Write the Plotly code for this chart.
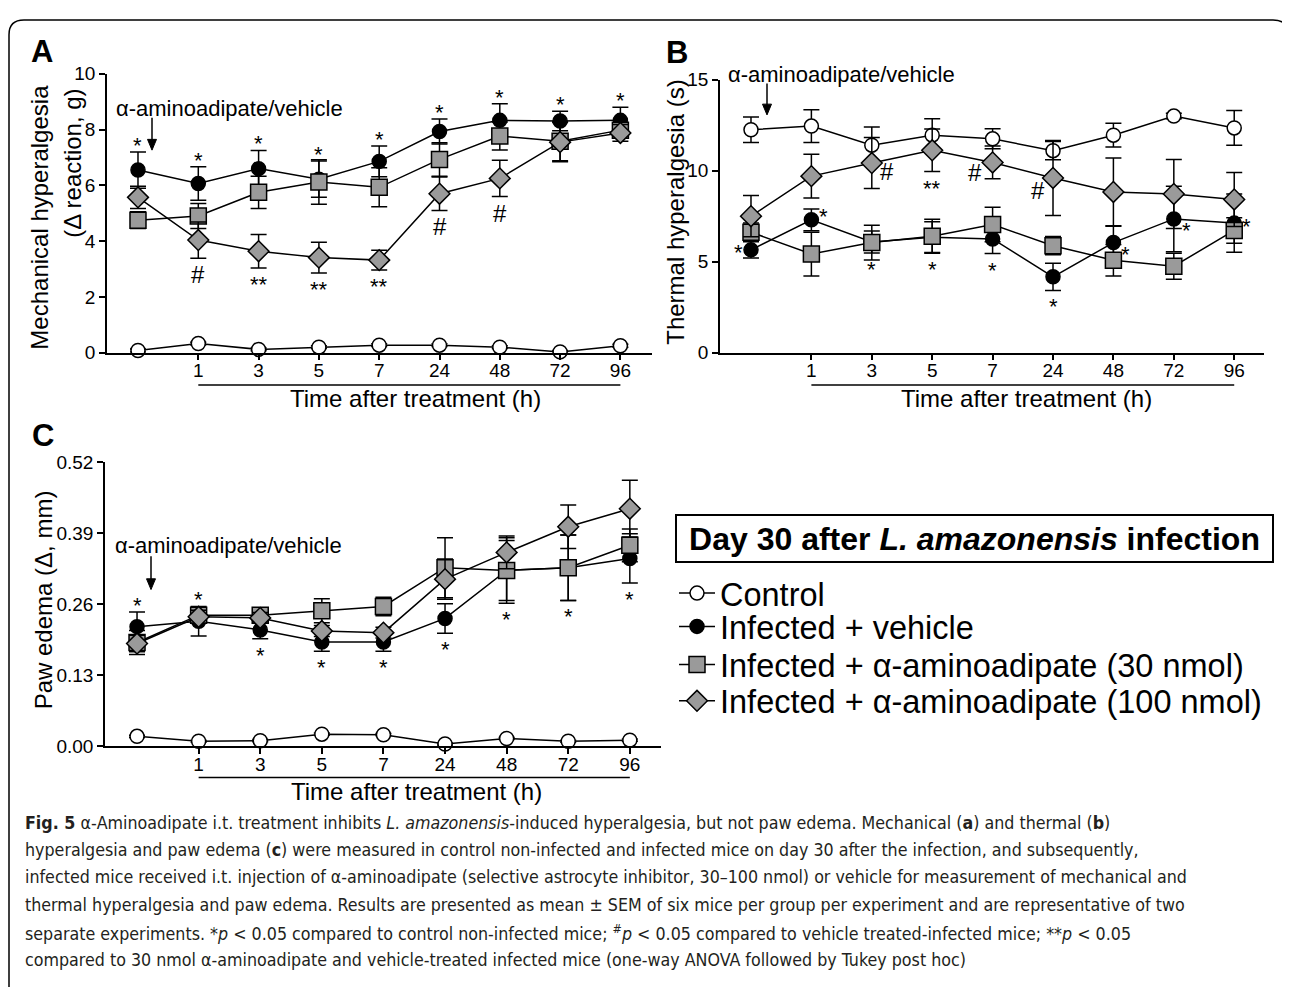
import plotly.graph_objects as go

W, H = 1290, 987

# ---------------- data ----------------
TIME_LABELS = ["1", "3", "5", "7", "24", "48", "72", "96"]   # baseline point has no label
N_POINTS = 9
SERIES_NAMES = ["Control", "Infected + vehicle",
                "Infected + α-aminoadipate (30 nmol)",
                "Infected + α-aminoadipate (100 nmol)"]

# Panel A: mechanical hyperalgesia (Δ reaction, g)
A_control = [0.08, 0.33, 0.12, 0.20, 0.27, 0.27, 0.20, 0.03, 0.25]
A_control_sem = [0.05] * 9
A_vehicle = [6.55, 6.07, 6.60, 6.22, 6.86, 7.93, 8.33, 8.31, 8.33]
A_vehicle_sem = [0.65, 0.60, 0.65, 0.65, 0.55, 0.45, 0.60, 0.35, 0.47]
A_aa30 = [4.75, 4.90, 5.75, 6.12, 5.93, 6.93, 7.77, 7.58, 7.98]
A_aa30_sem = [0.30, 0.45, 0.58, 0.80, 0.70, 0.60, 0.50, 0.70, 0.20]
A_aa100 = [5.57, 4.04, 3.64, 3.41, 3.32, 5.70, 6.25, 7.55, 7.88]
A_aa100_sem = [0.40, 0.65, 0.60, 0.55, 0.35, 0.60, 0.65, 0.70, 0.30]

# Panel B: thermal hyperalgesia (s)
B_control = [12.25, 12.45, 11.40, 11.95, 11.75, 11.10, 11.95, 13.00, 12.35]
B_control_sem = [0.70, 0.90, 1.00, 0.90, 0.55, 0.50, 0.65, 0.15, 0.95]
B_vehicle = [5.65, 7.30, 6.08, 6.35, 6.25, 4.17, 6.05, 7.35, 7.12]
B_vehicle_sem = [0.45, 0.60, 0.60, 0.85, 0.80, 0.75, 0.90, 1.80, 1.60]
B_aa30 = [6.62, 5.42, 6.05, 6.40, 7.04, 5.88, 5.08, 4.75, 6.72]
B_aa30_sem = [0.50, 1.20, 0.95, 0.93, 0.95, 0.50, 0.86, 0.72, 0.70]
B_aa100 = [7.50, 9.70, 10.42, 11.12, 10.45, 9.60, 8.83, 8.72, 8.42]
B_aa100_sem = [1.13, 1.20, 1.40, 1.17, 0.90, 2.06, 1.86, 1.90, 1.48]

# Panel C: paw edema (Δ, mm)
C_control = [0.018, 0.009, 0.010, 0.022, 0.021, 0.004, 0.014, 0.009, 0.011]
C_control_sem = [0.002] * 9
C_vehicle = [0.219, 0.229, 0.213, 0.191, 0.191, 0.234, 0.322, 0.327, 0.344]
C_vehicle_sem = [0.027, 0.027, 0.016, 0.017, 0.017, 0.027, 0.060, 0.060, 0.045]
C_aa30 = [0.190, 0.240, 0.240, 0.248, 0.256, 0.327, 0.322, 0.327, 0.368]
C_aa30_sem = [0.022, 0.012, 0.010, 0.022, 0.017, 0.055, 0.055, 0.060, 0.030]
C_aa100 = [0.188, 0.237, 0.235, 0.211, 0.208, 0.306, 0.355, 0.402, 0.435]
C_aa100_sem = [0.015, 0.012, 0.010, 0.010, 0.010, 0.037, 0.030, 0.040, 0.052]

# significance marks: (point index, series, symbol, placement)
A_SIG = [(i, "vehicle", "*", "above") for i in range(9)] + [
    (1, "aa100", "#", "below"), (2, "aa100", "**", "below"), (3, "aa100", "**", "below"),
    (4, "aa100", "**", "below"), (5, "aa100", "#", "below"), (6, "aa100", "#", "below")]
B_SIG = [(0, "vehicle", "*", "left"), (1, "vehicle", "*", "right-high"),
         (2, "vehicle", "*", "below"), (3, "vehicle", "*", "below"),
         (4, "vehicle", "*", "below"), (5, "vehicle", "*", "below"),
         (6, "vehicle", "*", "right-low"), (7, "vehicle", "*", "right-low"),
         (8, "vehicle", "*", "right"),
         (2, "aa100", "#", "right-low"), (3, "aa100", "**", "below"),
         (4, "aa100", "#", "left-low"), (5, "aa100", "#", "left-lower")]
C_SIG = [(0, "vehicle", "*", "above"), (1, "vehicle", "*", "above")] + \
        [(i, "vehicle", "*", "below") for i in range(2, 9)]

CAPTION = [
    "<b>Fig. 5</b> α-Aminoadipate i.t. treatment inhibits <i>L. amazonensis</i>-induced hyperalgesia, but not paw edema. Mechanical (<b>a</b>) and thermal (<b>b</b>)",
    "hyperalgesia and paw edema (<b>c</b>) were measured in control non-infected and infected mice on day 30 after the infection, and subsequently,",
    "infected mice received i.t. injection of α-aminoadipate (selective astrocyte inhibitor, 30–100 nmol) or vehicle for measurement of mechanical and",
    "thermal hyperalgesia and paw edema. Results are presented as mean ± SEM of six mice per group per experiment and are representative of two",
    "separate experiments. *<i>p</i> &lt; 0.05 compared to control non-infected mice; <sup>#</sup><i>p</i> &lt; 0.05 compared to vehicle treated-infected mice; **<i>p</i> &lt; 0.05",
    "compared to 30 nmol α-aminoadipate and vehicle-treated infected mice (one-way ANOVA followed by Tukey post hoc)",
]

# ---------------- helpers ----------------
OFF = 8  # the page body margin shifts the figure by 8 px


def px(x):
    return (x - OFF) / W


def py(y):
    return 1 - (y - OFF) / H


FONT = "Liberation Sans, Arial, sans-serif"
CAP_FONT = "DejaVu Sans Condensed, Liberation Sans Narrow, Liberation Sans, sans-serif"
GRAY = "#9a9a9a"
X = list(range(N_POINTS))

STYLE = {
    "control": dict(symbol="circle", size=14, color="white"),
    "vehicle": dict(symbol="circle", size=14, color="black"),
    "aa30": dict(symbol="square", size=16, color=GRAY),
    "aa100": dict(symbol="diamond", size=16, color=GRAY),
}
KEYS = ["control", "vehicle", "aa30", "aa100"]
LEGEND_IDS = ["legend", "legend2", "legend3", "legend4"]
LEGEND_Y = [596, 630, 669, 706]

fig = go.Figure()

panels = {
    "A": dict(xa="x", ya="y",
              data={"control": (A_control, A_control_sem), "vehicle": (A_vehicle, A_vehicle_sem),
                    "aa30": (A_aa30, A_aa30_sem), "aa100": (A_aa100, A_aa100_sem)},
              sig=A_SIG),
    "B": dict(xa="x2", ya="y2",
              data={"control": (B_control, B_control_sem), "vehicle": (B_vehicle, B_vehicle_sem),
                    "aa30": (B_aa30, B_aa30_sem), "aa100": (B_aa100, B_aa100_sem)},
              sig=B_SIG),
    "C": dict(xa="x3", ya="y3",
              data={"control": (C_control, C_control_sem), "vehicle": (C_vehicle, C_vehicle_sem),
                    "aa30": (C_aa30, C_aa30_sem), "aa100": (C_aa100, C_aa100_sem)},
              sig=C_SIG),
}

for pname, p in panels.items():
    for k, name, lid in zip(KEYS, SERIES_NAMES, LEGEND_IDS):
        vals, sem = p["data"][k]
        st = STYLE[k]
        fig.add_trace(go.Scatter(
            x=X, y=vals, name=name, mode="lines+markers",
            xaxis=p["xa"], yaxis=p["ya"], cliponaxis=False,
            showlegend=(pname == "A"), legend=lid,
            line=dict(color="black", width=1.5),
            marker=dict(symbol=st["symbol"], size=st["size"], color=st["color"],
                        line=dict(color="black", width=1.5)),
            error_y=dict(type="data", array=sem, visible=True, color="black",
                         thickness=1.5, width=8),
        ))

# ---------------- axes ----------------
axis_common = dict(showline=True, linecolor="black", linewidth=1.5, ticks="outside",
                   tickcolor="black", tickwidth=1.5, ticklen=6, showgrid=False,
                   zeroline=False, tickfont=dict(family=FONT, size=19, color="black"))


def xaxis(dom, rng, anchor):
    return dict(axis_common, domain=[px(dom[0]), px(dom[1])], range=rng, anchor=anchor,
                tickmode="array", tickvals=list(range(1, N_POINTS)), ticktext=TIME_LABELS,
                ticklabelstandoff=-6)


fig.update_layout(
    xaxis=xaxis((107, 652), [-0.514, 8.524], "y"),
    yaxis=dict(axis_common, domain=[py(350), py(65)], range=[0, 10], dtick=2, anchor="x"),
    xaxis2=xaxis((720, 1264), [-0.513, 8.493], "y2"),
    yaxis2=dict(axis_common, domain=[py(350), py(71)], range=[0, 15], dtick=5, anchor="x2"),
    xaxis3=xaxis((105, 661), [-0.52, 8.506], "y3"),
    yaxis3=dict(axis_common, domain=[py(752), py(462)], range=[0, 0.52], dtick=0.13,
                tickformat=".2f", anchor="x3"),
)

ann = []
shapes = []


def text(x, y, s, size=22, angle=0, bold=False, xanchor="center", yanchor="middle", fam=FONT,
         color="black"):
    if bold:
        s = "<b>" + s + "</b>"
    ann.append(dict(x=px(x), y=py(y), xref="paper", yref="paper", text=s, showarrow=False,
                    textangle=angle, xanchor=xanchor, yanchor=yanchor,
                    font=dict(family=fam, size=size, color=color)))


# panel letters
text(42, 42, "A", 31, bold=True)
text(677, 43, "B", 31, bold=True)
text(43, 435, "C", 31, bold=True)

# y titles
text(40, 212, "Mechanical hyperalgesia", 24, angle=-90)
text(73, 157, "(Δ reaction, g)", 24, angle=-90)
text(676, 207, "Thermal hyperalgesia (s)", 24, angle=-90)
text(43, 603, "Paw edema (Δ, mm)", 24, angle=-90)

# x titles
text(415, 397, "Time after treatment (h)", 24)
text(1026, 397, "Time after treatment (h)", 24)
text(416, 798, "Time after treatment (h)", 24)

# underline bars below tick labels (span from first to last labelled time)
for xa, yline in (("x", 383), ("x2", 383), ("x3", 784)):
    shapes.append(dict(type="line", xref=xa, yref="paper", x0=1, x1=N_POINTS - 1,
                       y0=py(yline), y1=py(yline), line=dict(color="black", width=1.3)))

# treatment arrows (text + drawn arrow)
for (tx, ty), (ax_, ay0, ay1) in (((229, 100), (152, 110, 143)),
                                  ((842, 66), (767, 75, 107)),
                                  ((228, 547), (151, 558, 592))):
    text(tx, ty, "α-aminoadipate/vehicle", 22)
    shapes.append(dict(type="line", xref="paper", yref="paper", x0=px(ax_), x1=px(ax_),
                       y0=py(ay0), y1=py(ay1 - 8), line=dict(color="black", width=1.5)))
    tri = (f"M {px(ax_ - 4.5)},{py(ay1 - 11)} L {px(ax_ + 4.5)},{py(ay1 - 11)} "
           f"L {px(ax_)},{py(ay1)} Z")
    shapes.append(dict(type="path", xref="paper", yref="paper", path=tri,
                       fillcolor="black", line=dict(color="black", width=1)))

# significance marks
PLACE = {
    "above": dict(dy="top", xanchor="center", yanchor="bottom", xshift=0, yshift=-8),
    "below": dict(dy="bottom", xanchor="center", yanchor="top", xshift=0, yshift=-2),
    "left": dict(dy="mid", xanchor="right", yanchor="middle", xshift=-6, yshift=-3),
    "right": dict(dy="mid", xanchor="left", yanchor="middle", xshift=6, yshift=-3),
    "right-high": dict(dy="mid", xanchor="left", yanchor="middle", xshift=6, yshift=3),
    "right-low": dict(dy="mid", xanchor="left", yanchor="middle", xshift=6, yshift=-12),
    "left-low": dict(dy="mid", xanchor="right", yanchor="middle", xshift=-9, yshift=-14),
    "left-lower": dict(dy="mid", xanchor="right", yanchor="middle", xshift=-6, yshift=-17),
}
for pname, p in panels.items():
    for idx, key, sym, place in p["sig"]:
        vals, sem = p["data"][key]
        pl = PLACE[place]
        yv = vals[idx] + (sem[idx] if pl["dy"] == "top" else -sem[idx] if pl["dy"] == "bottom" else 0)
        size = 24 if sym == "#" else 22
        ys = pl["yshift"]
        if sym == "#":
            ys = ys + (1 if place == "below" else 4)
        ann.append(dict(x=idx, y=yv, xref=p["xa"], yref=p["ya"], text=sym, showarrow=False,
                        xanchor=pl["xanchor"], yanchor=pl["yanchor"], xshift=pl["xshift"],
                        yshift=ys, font=dict(family=FONT, size=size, color="black")))

# legend box title
ann.append(dict(x=px(974.5), y=py(539.5), xref="paper", yref="paper",
                text="<b>Day 30 after <i>L. amazonensis</i> infection</b>", showarrow=False,
                xanchor="center", yanchor="middle", width=593, height=43,
                bordercolor="black", borderwidth=2, borderpad=1,
                font=dict(family=FONT, size=32, color="black")))

# caption
for i, line in enumerate(CAPTION):
    text(23, 830 + 28 * i, line, 17.7, xanchor="left", fam=CAP_FONT, color="#231f20")

# rounded frame around figure
x0, x1, y0, y1, r = 9, 1288, 10, 1010, 15
path = (f"M {px(x0)},{py(y1)} L {px(x0)},{py(y0 + r)} Q {px(x0)},{py(y0)} {px(x0 + r)},{py(y0)} "
        f"L {px(x1 - r)},{py(y0)} Q {px(x1)},{py(y0)} {px(x1)},{py(y0 + r)} L {px(x1)},{py(y1)}")
shapes.append(dict(type="path", xref="paper", yref="paper", path=path,
                   line=dict(color="black", width=1.5)))

legends = {}
for lid, ly in zip(LEGEND_IDS, LEGEND_Y):
    legends[lid] = dict(x=px(674), y=py(ly), xanchor="left", yanchor="middle",
                        font=dict(family=FONT, size=32.5, color="black"),
                        bgcolor="rgba(0,0,0,0)", itemwidth=36)

fig.update_layout(
    width=W, height=H, margin=dict(l=0, r=0, t=0, b=0),
    paper_bgcolor="white", plot_bgcolor="white",
    annotations=ann, shapes=shapes, showlegend=True, **legends,
)

fig.write_html("out.html")
